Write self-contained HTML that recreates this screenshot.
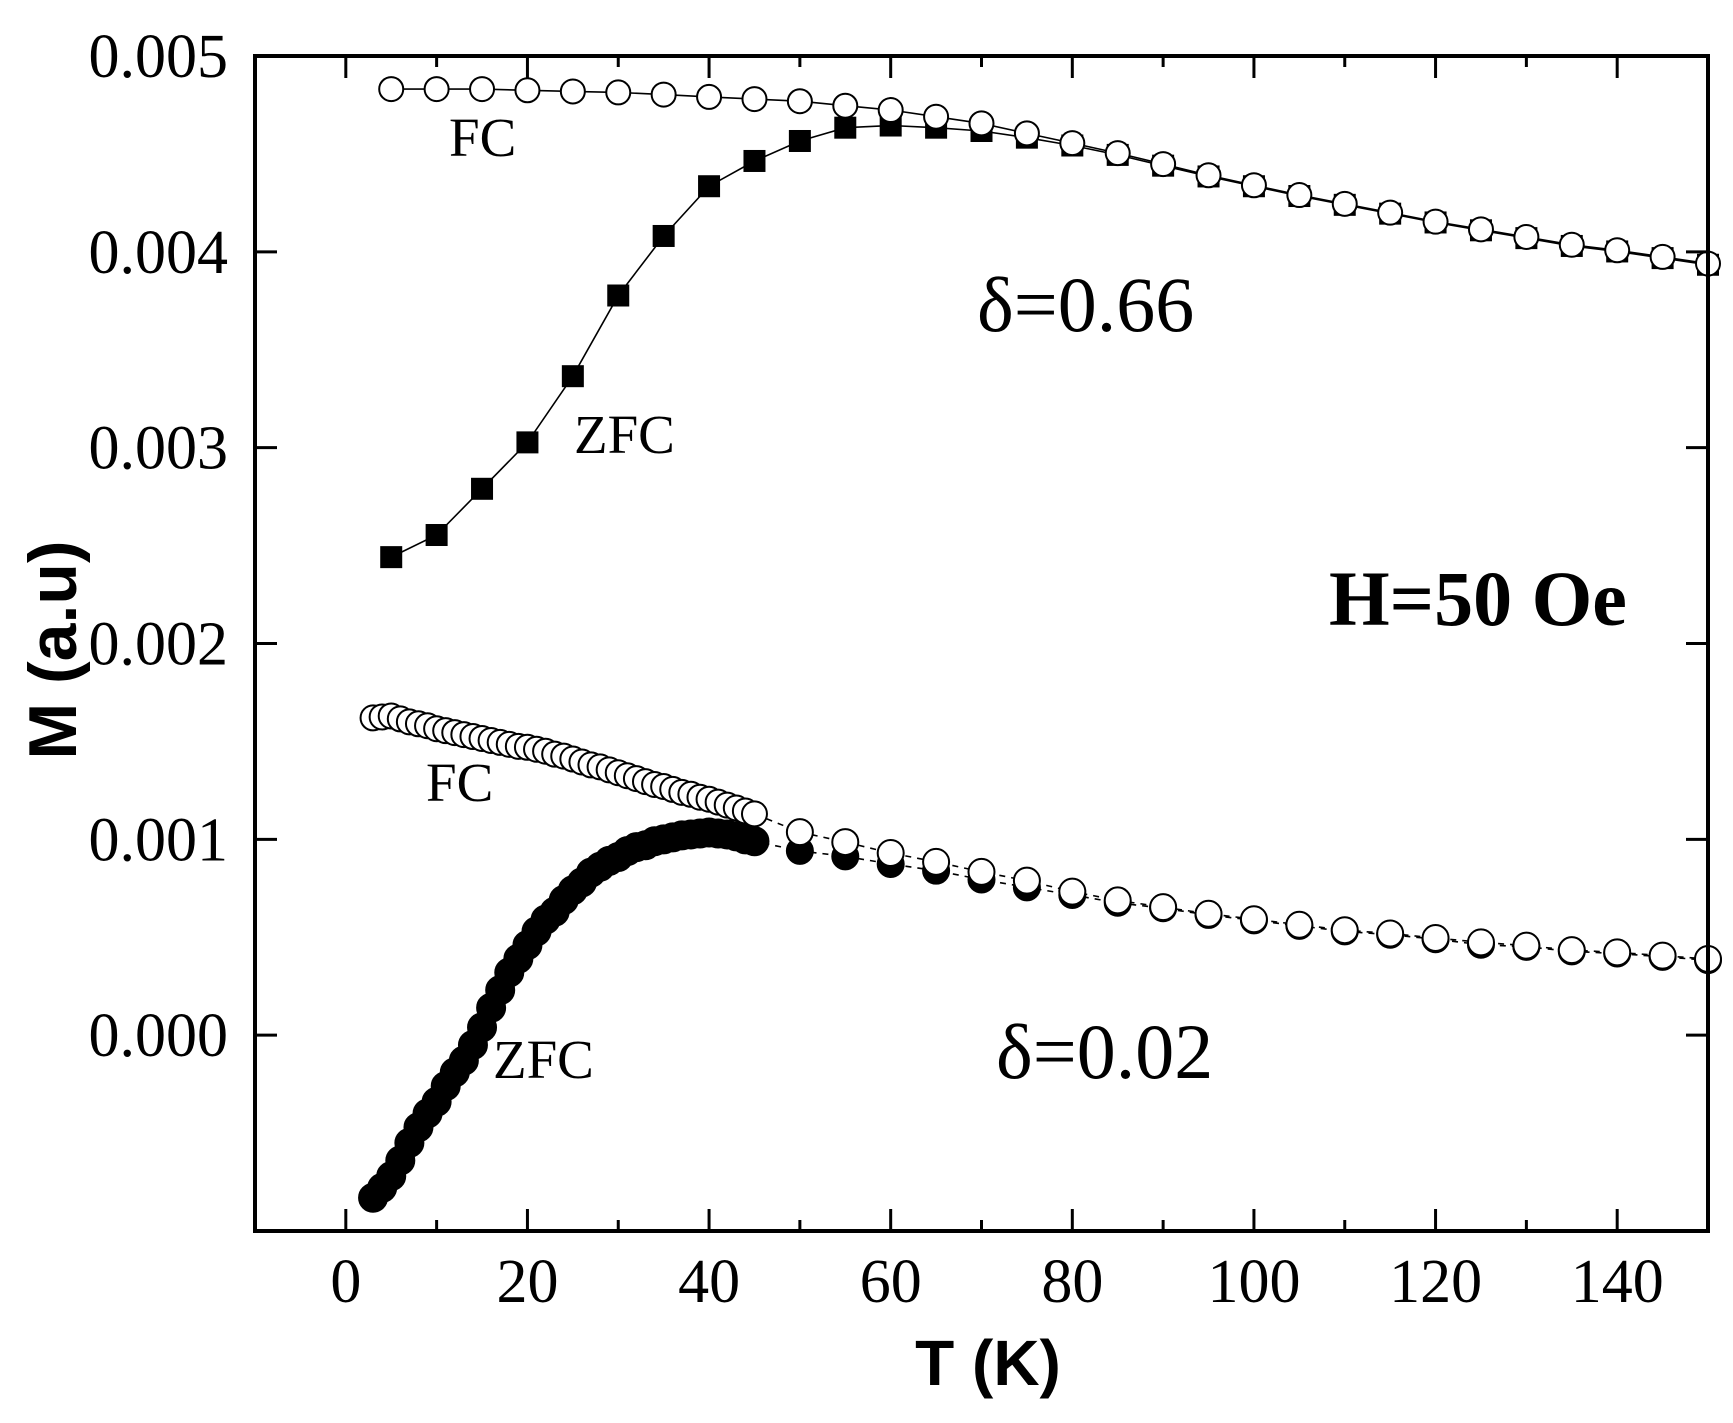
<!DOCTYPE html>
<html><head><meta charset="utf-8"><style>
html,body{margin:0;padding:0;background:#fff;}
svg{display:block;}
</style></head><body>
<svg id="chart" width="1733" height="1423" viewBox="0 0 1733 1423" xmlns="http://www.w3.org/2000/svg">
<rect x="0" y="0" width="1733" height="1423" fill="#fff"/>
<g id="plot"></g>
<g id="frame"></g>
<text x="988" y="1385" text-anchor="middle" font-family="Liberation Sans, sans-serif" font-weight="bold" font-size="64">T (K)</text>
<text transform="translate(76,650) rotate(-90)" text-anchor="middle" font-family="Liberation Sans, sans-serif" font-weight="bold" font-size="68">M (a.u)</text>
<g font-family="Liberation Serif, serif" fill="#000">
<text x="449" y="156" font-size="55">FC</text>
<text x="574" y="453" font-size="55">ZFC</text>
<text x="977" y="331" font-size="78">δ=0.66</text>
<text x="426" y="801" font-size="55">FC</text>
<text x="493" y="1078" font-size="55">ZFC</text>
<text x="996" y="1078" font-size="78">δ=0.02</text>
<text x="1329" y="625" font-size="78" font-weight="bold">H=50 Oe</text>
</g>
</svg>
<script>
// data in units of 1e-3 (a.u.)
const xTicks = [0,20,40,60,80,100,120,140];
const yTicks = [0,1,2,3,4,5];
const yTickLabels = ["0.000","0.001","0.002","0.003","0.004","0.005"];

const tSparse = [5,10,15,20,25,30,35,40,45,50,55,60,65,70,75,80,85,90,95,100,105,110,115,120,125,130,135,140,145,150];
const fcHigh = [4.831,4.831,4.831,4.825,4.819,4.814,4.803,4.791,4.780,4.769,4.746,4.724,4.690,4.656,4.605,4.555,4.504,4.448,4.391,4.340,4.290,4.245,4.200,4.154,4.115,4.076,4.036,4.008,3.974,3.940];
const zfcHigh = [2.441,2.554,2.790,3.027,3.365,3.777,4.081,4.335,4.464,4.566,4.634,4.645,4.634,4.617,4.583,4.543,4.495,4.440,4.385,4.335,4.285,4.240,4.195,4.150,4.110,4.070,4.030,4.002,3.968,3.934];

const tDense = [3,4,5,6,7,8,9,10,11,12,13,14,15,16,17,18,19,20,21,22,23,24,25,26,27,28,29,30,31,32,33,34,35,36,37,38,39,40,41,42,43,44,45];
const fcLowDense = [1.62,1.625,1.63,1.615,1.60,1.59,1.58,1.565,1.555,1.545,1.535,1.525,1.515,1.505,1.495,1.485,1.475,1.47,1.46,1.45,1.435,1.425,1.41,1.395,1.38,1.37,1.355,1.34,1.325,1.31,1.295,1.28,1.27,1.255,1.24,1.23,1.215,1.205,1.19,1.175,1.16,1.145,1.13];
const zfcLowDense = [-0.83,-0.78,-0.72,-0.64,-0.55,-0.47,-0.40,-0.34,-0.26,-0.19,-0.13,-0.05,0.04,0.14,0.23,0.32,0.39,0.46,0.53,0.59,0.63,0.69,0.74,0.78,0.83,0.86,0.89,0.91,0.94,0.96,0.97,0.99,1.00,1.01,1.02,1.025,1.03,1.035,1.03,1.025,1.015,1.0,0.99];

const tLowSparse = [50,55,60,65,70,75,80,85,90,95,100,105,110,115,120,125,130,135,140,145,150];
const fcLowSparse = [1.037,0.986,0.930,0.885,0.834,0.789,0.733,0.688,0.654,0.620,0.592,0.564,0.536,0.519,0.496,0.474,0.457,0.434,0.423,0.406,0.389];
const zfcLowSparse = [0.941,0.913,0.874,0.840,0.795,0.755,0.716,0.676,0.648,0.614,0.586,0.558,0.530,0.513,0.490,0.462,0.451,0.428,0.417,0.400,0.383];

const X0=255, X1=1708, Y0=1231, Y1=56, XMIN=-10, XMAX=150, YMIN=-1, YMAX=5;
const sx = t => X0 + (t-XMIN)/(XMAX-XMIN)*(X1-X0);
const sy = m => Y0 - (m-YMIN)/(YMAX-YMIN)*(Y0-Y1);
const NS='http://www.w3.org/2000/svg';
const plot=document.getElementById('plot'), frame=document.getElementById('frame');
function mk(tag, attrs, parent){const e=document.createElementNS(NS,tag);for(const k in attrs)e.setAttribute(k,attrs[k]);parent.appendChild(e);return e;}

function line(ts, ms, name, dash){
  const d=ts.map((t,i)=>(i?'L':'M')+sx(t).toFixed(1)+' '+sy(ms[i]).toFixed(1)).join(' ');
  const p=mk('path',{d:d,fill:'none',stroke:'#000','stroke-width':1.6},plot);
  if(dash)p.setAttribute('stroke-dasharray',dash);
  
  
}
function circles(ts, ms, name, r, fill){
  ts.forEach((t,i)=>{
    const c=mk('circle',{cx:sx(t),cy:sy(ms[i]),r:r,fill:fill,stroke:'#000','stroke-width':2},plot);
    
    
  });
}
function squares(ts, ms, name, s){
  ts.forEach((t,i)=>{
    const q=mk('rect',{x:sx(t)-s/2,y:sy(ms[i])-s/2,width:s,height:s,fill:'#000'},plot);
    
    
  });
}

line(tDense.concat(tLowSparse), zfcLowDense.concat(zfcLowSparse), 'zfc-low-line', '6 6');
line(tDense.concat(tLowSparse), fcLowDense.concat(fcLowSparse), 'fc-low-line', '6 6');
circles(tDense, zfcLowDense, 'zfc-low-point', 14, '#000');
circles(tLowSparse, zfcLowSparse, 'zfc-low-point', 13, '#000');
circles(tDense, fcLowDense, 'fc-low-point', 12.5, '#fff');
circles(tLowSparse, fcLowSparse, 'fc-low-point', 13, '#fff');

line(tSparse, zfcHigh, 'zfc-high-line', null);
line(tSparse, fcHigh, 'fc-high-line', null);
squares(tSparse, zfcHigh, 'zfc-high-point', 22);
circles(tSparse, fcHigh, 'fc-high-point', 12, '#fff');

const fr=mk('rect',{x:X0,y:Y1,width:X1-X0,height:Y0-Y1,fill:'none',stroke:'#000','stroke-width':4},frame);



for(let t=0;t<=140;t+=10){
  const major = xTicks.indexOf(t)>=0;
  const L = major?22:11;
  const tb=mk('line',{x1:sx(t),x2:sx(t),y1:Y0,y2:Y0-L,stroke:'#000','stroke-width':3},frame);
  
  
  const tt=mk('line',{x1:sx(t),x2:sx(t),y1:Y1,y2:Y1+L,stroke:'#000','stroke-width':3},frame);
  
  
}
xTicks.forEach(t=>{
  const tx=mk('text',{x:sx(t),y:1302,'text-anchor':'middle','font-family':'Liberation Serif, serif','font-size':62},frame);
  tx.textContent=String(t);
  
  
});
yTicks.forEach((m,i)=>{
  const a=mk('line',{x1:X0,x2:X0+22,y1:sy(m),y2:sy(m),stroke:'#000','stroke-width':3},frame);
  
  
  const b=mk('line',{x1:X1,x2:X1-22,y1:sy(m),y2:sy(m),stroke:'#000','stroke-width':3},frame);
  
  
  const tx=mk('text',{x:228,y:sy(m)+21,'text-anchor':'end','font-family':'Liberation Serif, serif','font-size':62},frame);
  tx.textContent=yTickLabels[i];
  
  
});
</script>
</body></html>
